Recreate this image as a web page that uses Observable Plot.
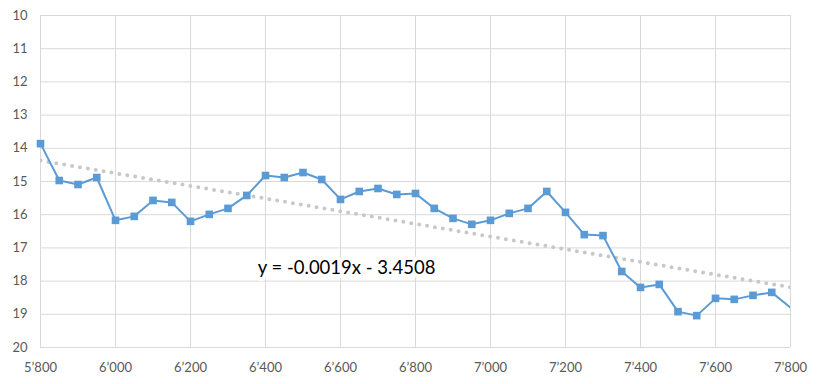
<!DOCTYPE html>
<html><head><meta charset="utf-8">
<script src="https://cdn.jsdelivr.net/npm/d3@7"></script>
<script src="https://cdn.jsdelivr.net/npm/@observablehq/plot@0.6"></script>
<style>body{margin:0;background:#fff;font-family:Lato,"Open Sans",sans-serif;} </style>
</head><body><div id="chart"></div>
<script>
const xs = [5800,5850,5900,5950,6000,6050,6100,6150,6200,6250,6300,6350,6400,6450,6500,6550,6600,6650,6700,6750,6800,6850,6900,6950,7000,7050,7100,7150,7200,7250,7300,7350,7400,7450,7500,7550,7600,7650,7700,7750,7850];
const ys = [13.86,14.97,15.09,14.88,16.17,16.05,15.57,15.63,16.20,15.99,15.81,15.42,14.82,14.88,14.73,14.94,15.54,15.30,15.21,15.39,15.36,15.81,16.11,16.29,16.17,15.96,15.81,15.30,15.93,16.60,16.63,17.71,18.19,18.10,18.92,19.04,18.52,18.55,18.43,18.34,19.26];
const xTicks = [5800,6000,6200,6400,6600,6800,7000,7200,7400,7600,7800];
const yTicks = [10,11,12,13,14,15,16,17,18,19,20];
const trendLabel = ["y = -0.0019x - 3.4508"];
const labelPos = [{x: 6616, y: 17.6}];

const data = xs.map((x, i) => ({x, y: ys[i]}));
const fmt = d => d3.format(",")(d).replace(",", "\u2019");

const chart = Plot.plot({
  width: 822, height: 384,
  marginTop: 15, marginBottom: 37, marginLeft: 40, marginRight: 32,
  style: {fontFamily: "Lato, 'Open Sans', sans-serif", fontSize: "13px", color: "#595959", background: "#fff"},
  x: {domain: [5800, 7800], ticks: xTicks, tickFormat: fmt, tickSize: 0, tickPadding: 15, label: null},
  y: {domain: [10, 20], reverse: true, ticks: yTicks, tickSize: 0, tickPadding: 13, label: null},
  marks: [
    Plot.gridX(xTicks, {stroke: "#d9d9d9", strokeOpacity: 1}),
    Plot.gridY(yTicks, {stroke: "#d9d9d9", strokeOpacity: 1}),
    Plot.linearRegressionY(data, {x: "x", y: "y", ci: 0, clip: true, stroke: "#c8c8c8", strokeWidth: 4, strokeDasharray: "0,8", strokeLinecap: "round"}),
    Plot.text(labelPos, {x: "x", y: "y", text: () => trendLabel[0], fontSize: 18.5, fill: "#000", stroke: "white", strokeWidth: 8, textAnchor: "middle"}),
    Plot.line(data, {x: "x", y: "y", clip: true, stroke: "#5b9bd5", strokeWidth: 2}),
    Plot.dot(data, {x: "x", y: "y", filter: d => d.x <= 7800, symbol: "square", r: 4.3, fill: "#5b9bd5", stroke: "none"})
  ]
});
document.getElementById("chart").appendChild(chart);
</script></body></html>
